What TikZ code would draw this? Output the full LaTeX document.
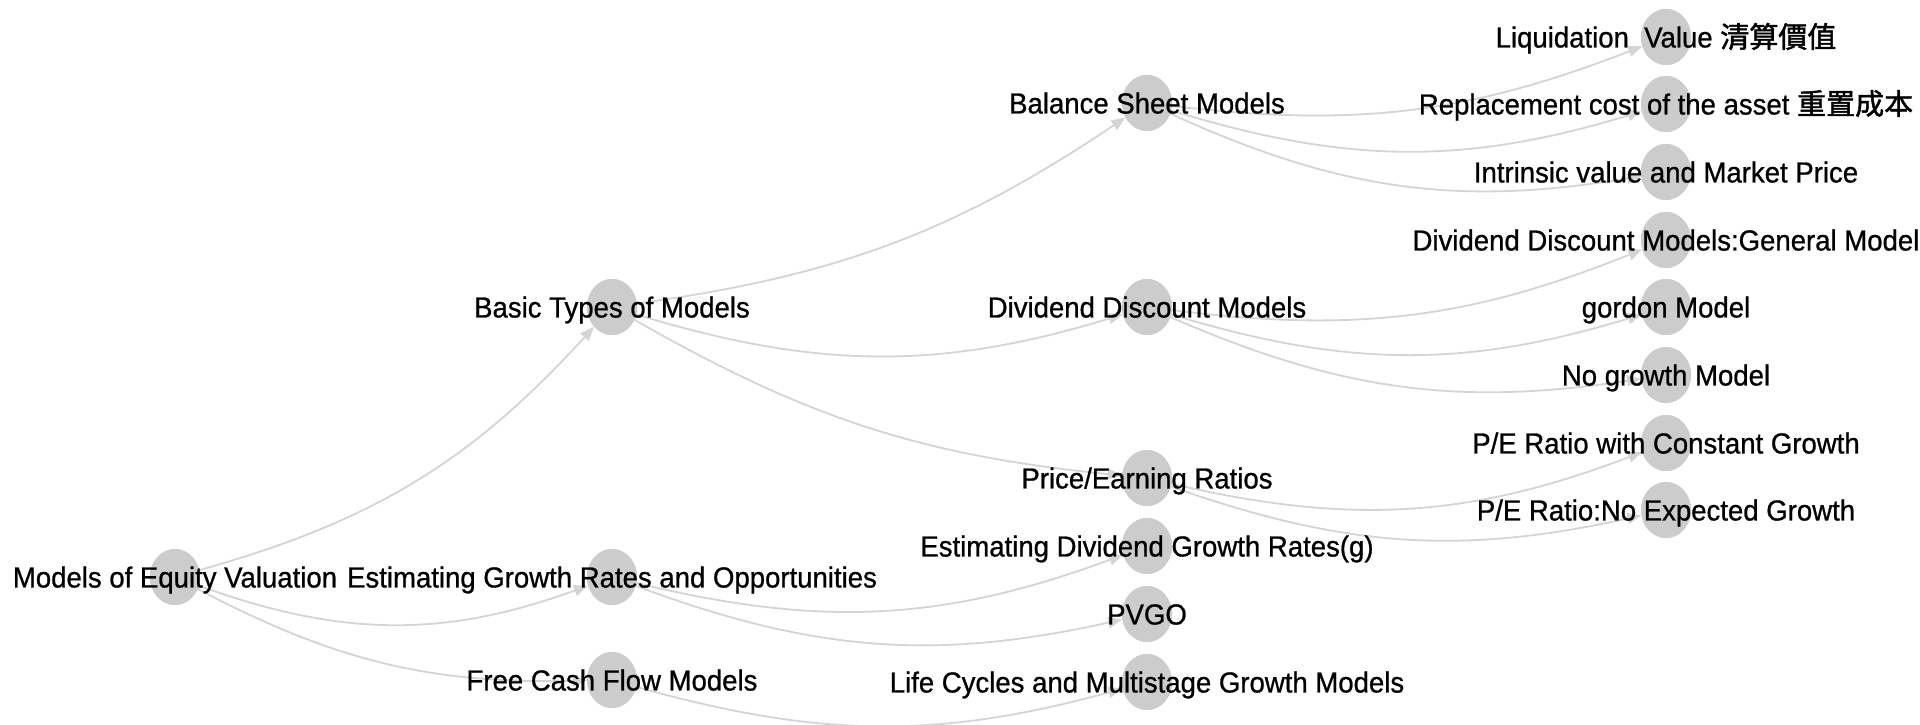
\documentclass[tikz,border=0pt]{standalone}
\usepackage{fontspec}
\setmainfont{Liberation Sans}[FakeStretch=0.95,FakeBold=0.8]
\newfontfamily\cjk{Noto Sans CJK TC}[FakeBold=1.6]
\usetikzlibrary{shapes.geometric,arrows.meta}
\definecolor{dotgray}{HTML}{CCCCCC}
\definecolor{linkgray}{HTML}{D4D4D4}
\begin{document}
\begin{tikzpicture}[x=1pt,y=1pt,
  dot/.style={ellipse,fill=dotgray,draw=none,inner sep=0pt,minimum width=50pt,minimum height=56pt},
  lbl/.style={anchor=base,inner sep=0pt,font=\fontsize{29}{34}\selectfont,text=black},
  link/.style={draw=linkgray,line width=1.8pt,-{Triangle[length=14pt,width=11pt]}}
]
\fill[white] (0,0) rectangle (1920,725);
\useasboundingbox (0,0) rectangle (1920,725);

% circles
\node[dot] (root)  at (175,148) {};
\node[dot] (basic) at (612,418) {};
\node[dot] (est)   at (612,148) {};
\node[dot] (fcf)   at (612,45) {};
\node[dot] (bsm)   at (1147,622) {};
\node[dot] (ddm)   at (1147,418) {};
\node[dot] (per)   at (1147,247) {};
\node[dot] (edg)   at (1147,179) {};
\node[dot] (pvgo)  at (1147,111) {};
\node[dot] (lc)    at (1147,43) {};
\node[dot] (liq)   at (1666,688) {};
\node[dot] (rep)   at (1666,621) {};
\node[dot] (intr)  at (1666,553) {};
\node[dot] (ddmg)  at (1666,485) {};
\node[dot] (gor)   at (1666,418) {};
\node[dot] (nog)   at (1666,350) {};
\node[dot] (pec)   at (1666,282) {};
\node[dot] (pen)   at (1666,215) {};

% links
\path[link] (root) to[bend right=16] (basic);
\path[link] (root) to[bend right=20] (est);
\path[link] (root) to[bend right=14.5] (fcf);
\path[link] (basic) to[bend right=13] (bsm);
\path[link] (basic) to[bend right=17] (ddm);
\path[link] (basic) to[bend right=12] (per);
\path[link] (est) to[bend right=17] (edg);
\path[link] (est) to[bend right=16.5] (pvgo);
\path[link] (fcf) to[bend right=15.5] (lc);
\path[link] (bsm) to[bend right=14] (liq);
\path[link] (bsm) to[bend right=17] (rep);
\path[link] (bsm) to[bend right=17] (intr);
\path[link] (ddm) to[bend right=14.5] (ddmg);
\path[link] (ddm) to[bend right=17] (gor);
\path[link] (ddm) to[bend right=16] (nog);
\path[link] (per) to[bend right=17] (pec);
\path[link] (per) to[bend right=16] (pen);

% circles over the link starts
\foreach \n in {root,basic,est,fcf,bsm,ddm,per,edg,pvgo,lc,liq,rep,intr,ddmg,gor,nog,pec,pen}
  \fill[dotgray] (\n.center) ellipse [x radius=25pt, y radius=28pt];

% labels
\node[lbl] (rootT)  at ([yshift=-10.5pt]root.center)  {Models of Equity Valuation};
\node[lbl] (basicT) at ([yshift=-10.5pt]basic.center) {Basic Types of Models};
\node[lbl] (estT)   at ([yshift=-10.5pt]est.center)   {Estimating Growth Rates and Opportunities};
\node[lbl] (fcfT)   at ([yshift=-10.5pt]fcf.center)   {Free Cash Flow Models};
\node[lbl] (bsmT)   at ([yshift=-10.5pt]bsm.center)   {Balance Sheet Models};
\node[lbl] (ddmT)   at ([yshift=-10.5pt]ddm.center)   {Dividend Discount Models};
\node[lbl] (perT)   at ([yshift=-10.5pt]per.center)   {Price/Earning Ratios};
\node[lbl] (edgT)   at ([yshift=-10.5pt]edg.center)   {Estimating Dividend Growth Rates(g)};
\node[lbl] (pvgoT)  at ([yshift=-10.5pt]pvgo.center)  {PVGO};
\node[lbl] (lcT)    at ([yshift=-10.5pt]lc.center)    {Life Cycles and Multistage Growth Models};
\node[lbl] (liqT)   at ([yshift=-10.5pt]liq.center)   {Liquidation\ \ Value {\cjk 清算價值}};
\node[lbl] (repT)   at ([yshift=-10.5pt]rep.center)   {Replacement cost of the asset {\cjk 重置成本}};
\node[lbl] (intrT)  at ([yshift=-10.5pt]intr.center)  {Intrinsic value and Market Price};
\node[lbl] (ddmgT)  at ([yshift=-10.5pt]ddmg.center)  {Dividend Discount Models:General Model};
\node[lbl] (gorT)   at ([yshift=-10.5pt]gor.center)   {gordon Model};
\node[lbl] (nogT)   at ([yshift=-10.5pt]nog.center)   {No growth Model};
\node[lbl] (pecT)   at ([yshift=-10.5pt]pec.center)   {P/E Ratio with Constant Growth};
\node[lbl] (penT)   at ([yshift=-10.5pt]pen.center)   {P/E Ratio:No Expected Growth};
\end{tikzpicture}
\end{document}
